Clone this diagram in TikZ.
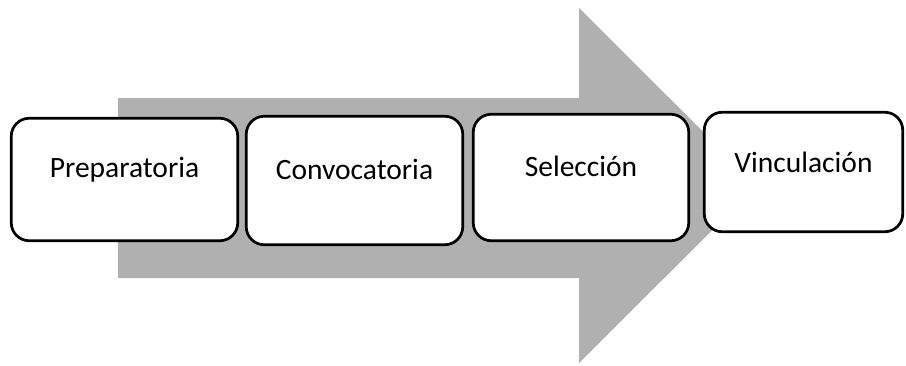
\documentclass[tikz,border=0pt]{standalone}
\usepackage{fontspec}
\setmainfont{Carlito}
\definecolor{arrowgray}{RGB}{176,176,176}
\begin{document}
\begin{tikzpicture}[x=1pt,y=-1pt,
  stage/.style={draw=black, line width=2.7pt, fill=white, rounded corners=18pt,
    inner sep=0pt, font=\fontsize{29.5}{31}\selectfont, anchor=center},
  bigarrow/.style={fill=arrowgray, draw=none}]
\useasboundingbox (0,0) rectangle (906,365);
\fill[white] (0,0) rectangle (906,365);
\path[bigarrow] (118,98) -- (579,98) -- (579,8) -- (757,185.5) -- (579,363) -- (579,278) -- (118,278) -- cycle;
\node[stage, minimum width=226.5pt, text height=58.75pt, text depth=63.75pt] (prep) at (124.5,179.5) {Preparatoria};
\node[stage, minimum width=216.5pt, text height=62.75pt, text depth=65.75pt] (conv) at (354.5,180.5) {Convocatoria};
\node[stage, minimum width=215.5pt, text height=61.75pt, text depth=64.75pt] (sel) at (581,177.5) {Selección};
\node[stage, minimum width=198.5pt, text height=59.75pt, text depth=59.75pt] (vinc) at (803.5,172) {Vinculación};
\end{tikzpicture}
\end{document}
